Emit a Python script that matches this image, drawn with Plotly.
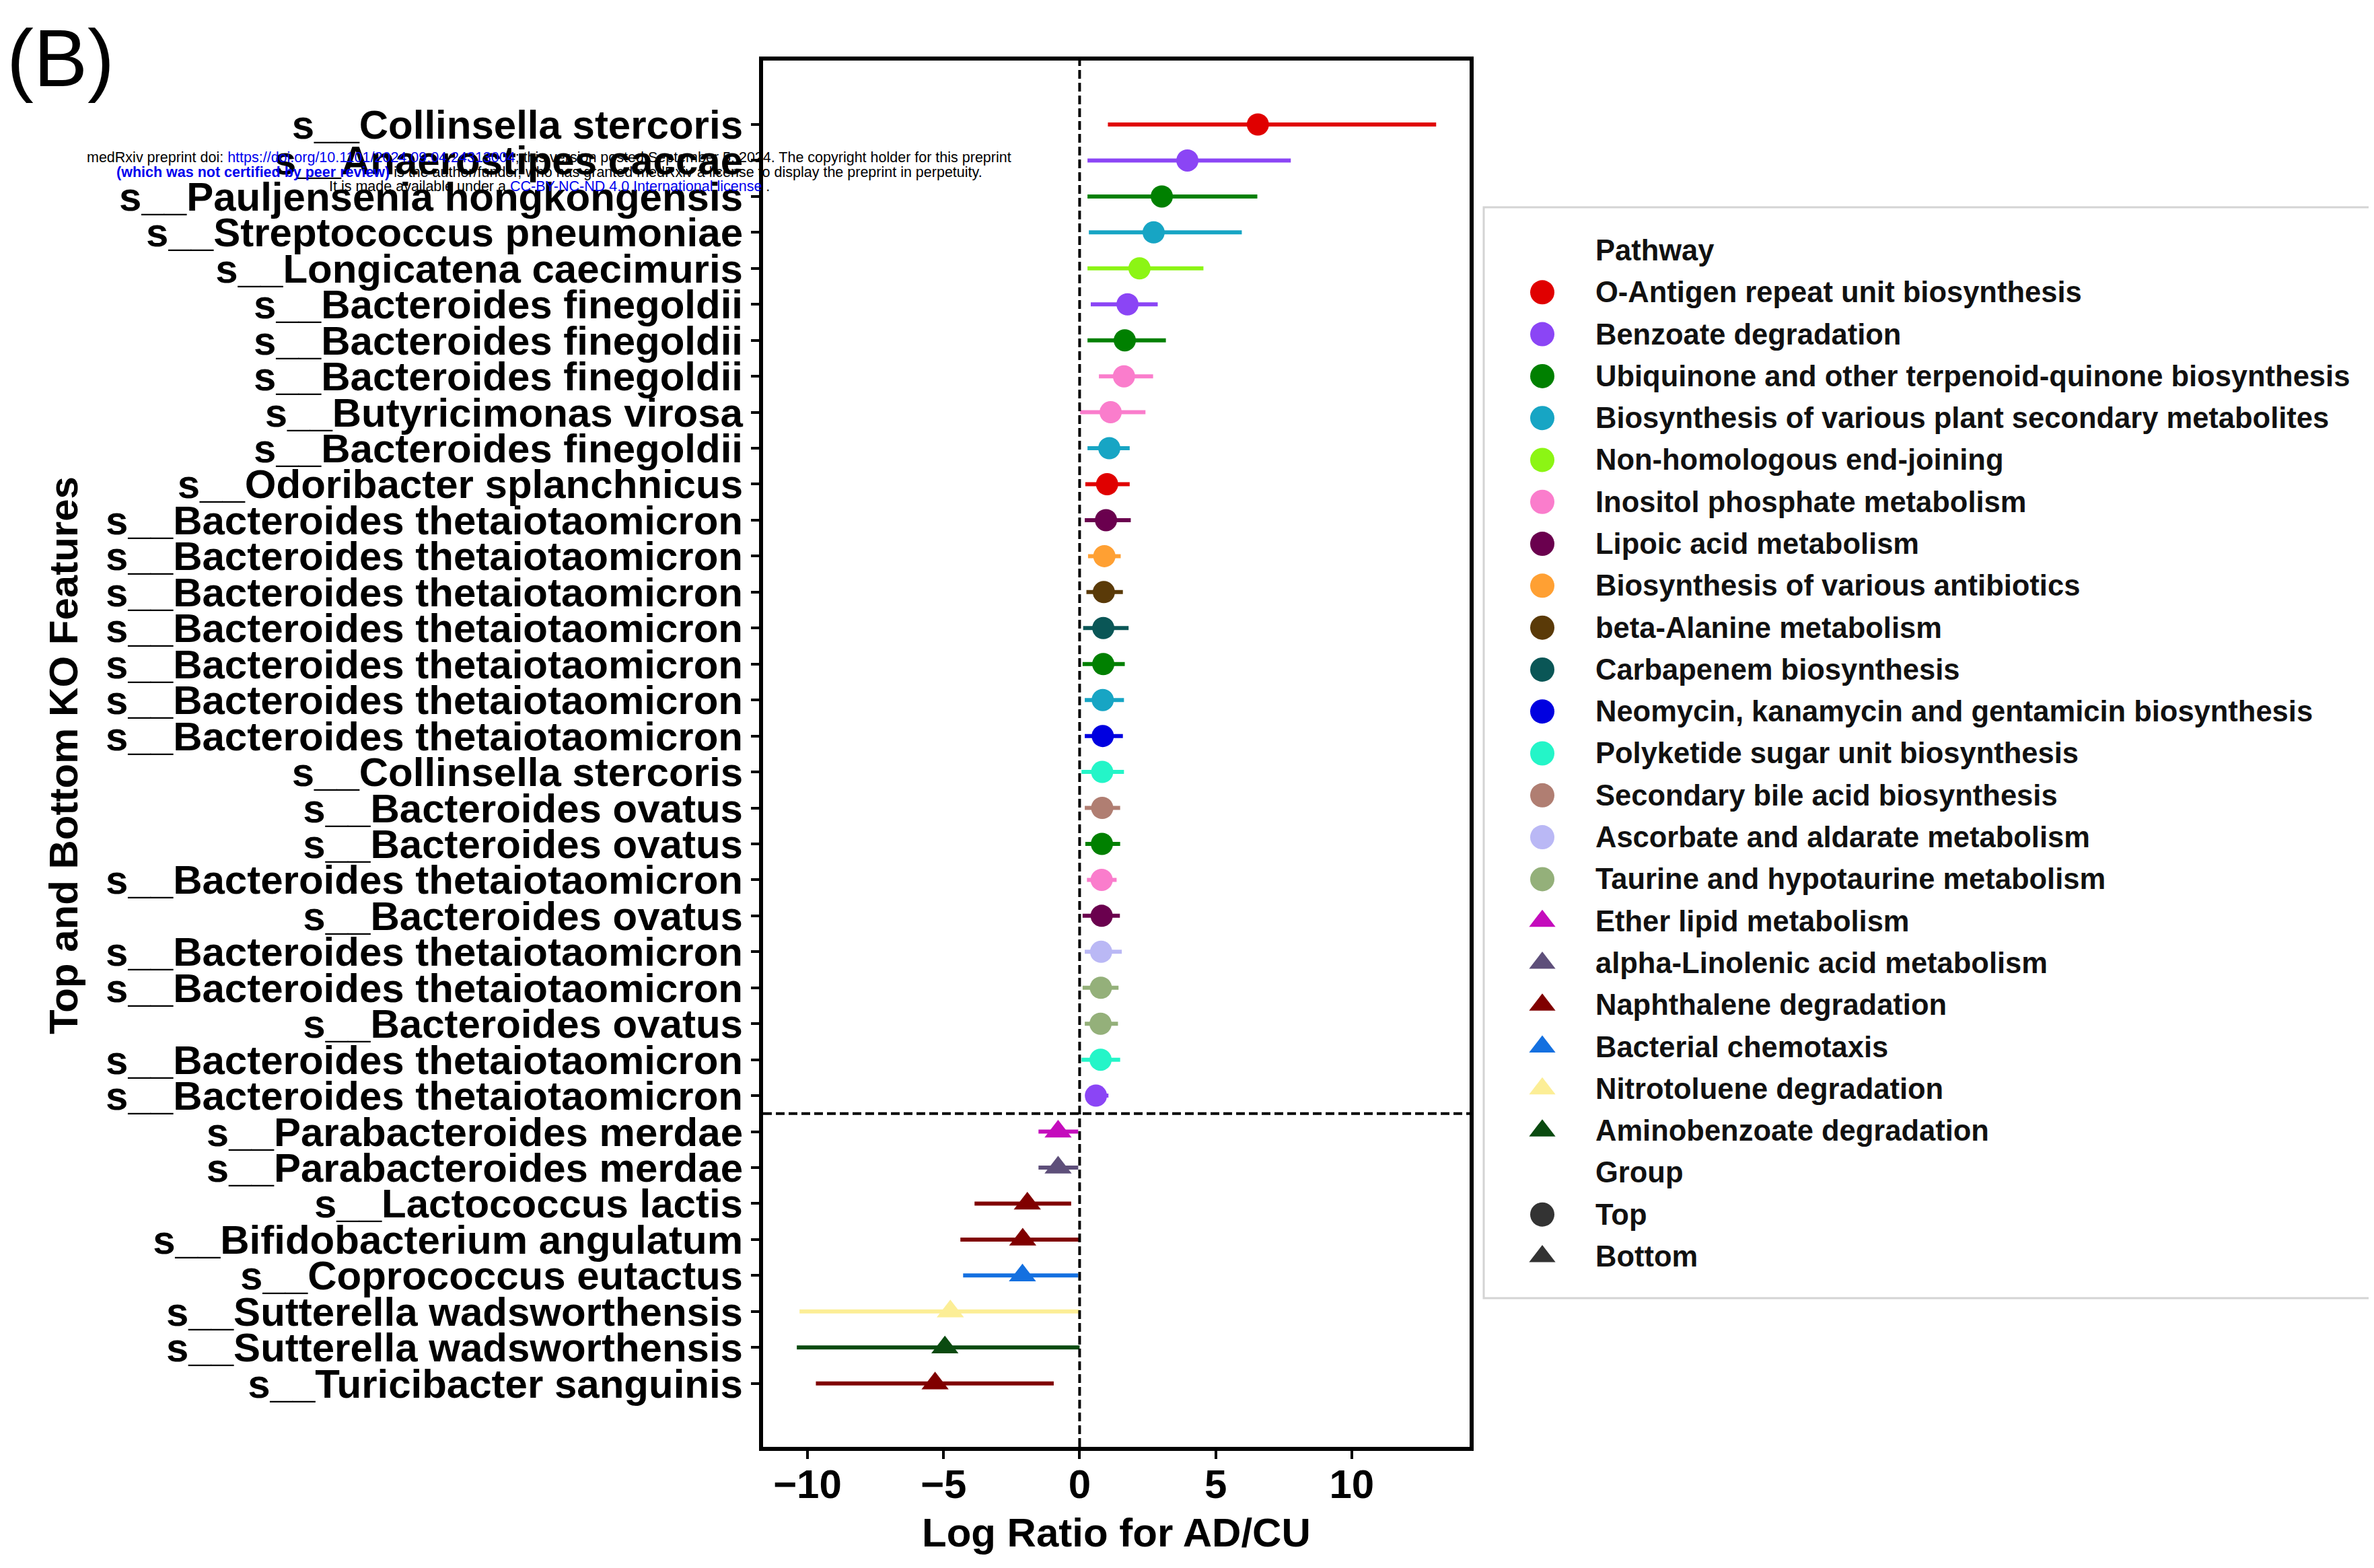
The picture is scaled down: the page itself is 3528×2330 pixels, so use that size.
import plotly.graph_objects as go

# ---------------- data ----------------
features = [
    "s__Collinsella stercoris", "s__Anaerostipes caccae", "s__Pauljensenia hongkongensis",
    "s__Streptococcus pneumoniae", "s__Longicatena caecimuris", "s__Bacteroides finegoldii",
    "s__Bacteroides finegoldii", "s__Bacteroides finegoldii", "s__Butyricimonas virosa",
    "s__Bacteroides finegoldii", "s__Odoribacter splanchnicus", "s__Bacteroides thetaiotaomicron",
    "s__Bacteroides thetaiotaomicron", "s__Bacteroides thetaiotaomicron", "s__Bacteroides thetaiotaomicron",
    "s__Bacteroides thetaiotaomicron", "s__Bacteroides thetaiotaomicron", "s__Bacteroides thetaiotaomicron",
    "s__Collinsella stercoris", "s__Bacteroides ovatus", "s__Bacteroides ovatus",
    "s__Bacteroides thetaiotaomicron", "s__Bacteroides ovatus", "s__Bacteroides thetaiotaomicron",
    "s__Bacteroides thetaiotaomicron", "s__Bacteroides ovatus", "s__Bacteroides thetaiotaomicron",
    "s__Bacteroides thetaiotaomicron", "s__Parabacteroides merdae", "s__Parabacteroides merdae",
    "s__Lactococcus lactis", "s__Bifidobacterium angulatum", "s__Coprococcus eutactus",
    "s__Sutterella wadsworthensis", "s__Sutterella wadsworthensis", "s__Turicibacter sanguinis",
]
row_pathway = [
    "O-Antigen repeat unit biosynthesis", "Benzoate degradation",
    "Ubiquinone and other terpenoid-quinone biosynthesis",
    "Biosynthesis of various plant secondary metabolites", "Non-homologous end-joining",
    "Benzoate degradation", "Ubiquinone and other terpenoid-quinone biosynthesis",
    "Inositol phosphate metabolism", "Inositol phosphate metabolism",
    "Biosynthesis of various plant secondary metabolites", "O-Antigen repeat unit biosynthesis",
    "Lipoic acid metabolism", "Biosynthesis of various antibiotics", "beta-Alanine metabolism",
    "Carbapenem biosynthesis", "Ubiquinone and other terpenoid-quinone biosynthesis",
    "Biosynthesis of various plant secondary metabolites",
    "Neomycin, kanamycin and gentamicin biosynthesis", "Polyketide sugar unit biosynthesis",
    "Secondary bile acid biosynthesis", "Ubiquinone and other terpenoid-quinone biosynthesis",
    "Inositol phosphate metabolism", "Lipoic acid metabolism", "Ascorbate and aldarate metabolism",
    "Taurine and hypotaurine metabolism", "Taurine and hypotaurine metabolism",
    "Polyketide sugar unit biosynthesis", "Benzoate degradation",
    "Ether lipid metabolism", "alpha-Linolenic acid metabolism", "Naphthalene degradation",
    "Naphthalene degradation", "Bacterial chemotaxis", "Nitrotoluene degradation",
    "Aminobenzoate degradation", "Naphthalene degradation",
]
row_group = ["Top"] * 28 + ["Bottom"] * 8
log_ratio = [6.55, 3.96, 3.02, 2.72, 2.20, 1.76, 1.66, 1.63, 1.14, 1.09, 1.01, 0.97,
             0.91, 0.89, 0.87, 0.87, 0.85, 0.85, 0.83, 0.83, 0.82, 0.81, 0.81, 0.79,
             0.78, 0.77, 0.77, 0.60, -0.79, -0.79, -1.92, -2.09, -2.10, -4.75, -4.95, -5.31]
ci_low = [1.04, 0.29, 0.29, 0.34, 0.29, 0.41, 0.29, 0.71, 0.02, 0.29, 0.21, 0.19,
          0.31, 0.25, 0.13, 0.11, 0.19, 0.19, 0.07, 0.19, 0.21, 0.27, 0.11, 0.19,
          0.11, 0.19, 0.07, 0.22, -1.51, -1.51, -3.86, -4.38, -4.28, -10.29, -10.39, -9.69]
ci_high = [13.10, 7.76, 6.53, 5.96, 4.55, 2.87, 3.17, 2.70, 2.42, 1.84, 1.84, 1.88,
           1.51, 1.59, 1.80, 1.66, 1.63, 1.59, 1.63, 1.49, 1.49, 1.36, 1.48, 1.55,
           1.43, 1.41, 1.49, 1.06, -0.05, -0.05, -0.31, -0.01, -0.05, 0.00, 0.00, -0.95]

pathway_names = [
    "O-Antigen repeat unit biosynthesis", "Benzoate degradation",
    "Ubiquinone and other terpenoid-quinone biosynthesis",
    "Biosynthesis of various plant secondary metabolites", "Non-homologous end-joining",
    "Inositol phosphate metabolism", "Lipoic acid metabolism",
    "Biosynthesis of various antibiotics", "beta-Alanine metabolism", "Carbapenem biosynthesis",
    "Neomycin, kanamycin and gentamicin biosynthesis", "Polyketide sugar unit biosynthesis",
    "Secondary bile acid biosynthesis", "Ascorbate and aldarate metabolism",
    "Taurine and hypotaurine metabolism", "Ether lipid metabolism",
    "alpha-Linolenic acid metabolism", "Naphthalene degradation", "Bacterial chemotaxis",
    "Nitrotoluene degradation", "Aminobenzoate degradation",
]
pathway_colors = [
    "#e00000", "#8b45f5", "#008000", "#17a5c4", "#8cf514", "#fa7dcc", "#6a004e",
    "#ffa033", "#5a3a08", "#0a5656", "#0000e0", "#24f5c8", "#b07e72", "#bab8f5",
    "#94b07a", "#c40cbc", "#5e4f7a", "#800000", "#1470e0", "#fcee96", "#0a4a10",
]
group_names = ["Top", "Bottom"]
group_symbols = ["circle", "triangle-up"]
group_color = "#333333"
x_tick_vals = [-10, -5, 0, 5, 10]
x_title = "Log Ratio for AD/CU"
y_title = "Top and Bottom KO Features"
legend_titles = ["Pathway", "Group"]

# ---------------- layout geometry (reference page pixels) ----------------
OFF = 8                                   # page body margin of the browser
W, H = 3528 - OFF, 2330 - OFF             # figure size
PL, PR, PT, PB = 1134, 2184, 90, 2150     # plot frame in page pixels
LL, LT, LB = 2205, 308, 1929              # legend box in page pixels
FONT = "Liberation Sans, Arial, sans-serif"


def fx(p):
    return (p - OFF) / W


def fy(p):
    return 1 - (p - OFF) / H


sym_of = dict(zip(group_names, group_symbols))
size_of = {"circle": 33, "triangle-up": 35}
n_rows = len(features)
y_idx = list(range(n_rows))

fig = go.Figure()

for name, color in zip(pathway_names, pathway_colors):
    rows = [i for i in y_idx if row_pathway[i] == name]
    xs = [log_ratio[i] for i in rows]
    syms = [sym_of[row_group[i]] for i in rows]
    fig.add_trace(go.Scatter(
        x=xs, y=rows, mode="markers", name=name, showlegend=False,
        marker=dict(color=color, symbol=syms, size=[size_of[s] for s in syms],
                    opacity=1, line=dict(width=0)),
        error_x=dict(type="data", symmetric=False,
                     array=[ci_high[i] - log_ratio[i] for i in rows],
                     arrayminus=[log_ratio[i] - ci_low[i] for i in rows],
                     color=color, thickness=6, width=0),
        xaxis="x", yaxis="y",
    ))

# reference lines
n_top = row_group.count("Top")
fig.add_shape(type="line", xref="x", yref="y domain", x0=0, x1=0, y0=0, y1=1,
              line=dict(color="black", width=4, dash="13px,6px"))
fig.add_shape(type="line", xref="x domain", yref="y", x0=0, x1=1, y0=n_top - 0.5, y1=n_top - 0.5,
              line=dict(color="black", width=4, dash="13px,6px"))

# ---------------- custom legend on hidden axes ----------------
entries = [(legend_titles[0], None, None)]
for name, color in zip(pathway_names, pathway_colors):
    grp = row_group[row_pathway.index(name)]
    entries.append((name, color, sym_of[grp]))
entries.append((legend_titles[1], None, None))
for g, s in zip(group_names, group_symbols):
    entries.append((g, group_color, s))

leg_idx = [i for i, e in enumerate(entries) if e[1] is not None]
fig.add_trace(go.Scatter(
    x=[0] * len(leg_idx), y=leg_idx, mode="markers", showlegend=False, hoverinfo="skip",
    marker=dict(color=[entries[i][1] for i in leg_idx], symbol=[entries[i][2] for i in leg_idx],
                size=[36 if entries[i][2] == "circle" else 34 for i in leg_idx],
                opacity=1, line=dict(width=0)),
    xaxis="x2", yaxis="y2",
))
annotations = []
for i, (txt, _, _) in enumerate(entries):
    annotations.append(dict(x=77, y=i, xref="x2", yref="y2", text=txt, showarrow=False,
                            xanchor="left", yanchor="middle",
                            font=dict(family=FONT, size=43.5, color="#111111", weight="bold")))

# panel label
annotations.append(dict(x=0, y=fy(86), xref="paper", yref="paper", text="(B)",
                        showarrow=False, xanchor="left", yanchor="middle",
                        font=dict(family=FONT, size=120, color="black")))

# preprint watermark
wm_lines = [
    "medRxiv preprint doi: <span style='color:#0000ee'>https://doi.org/10.1101/2024.09.04.24313004</span>; "
    "this version posted September 5, 2024. The copyright holder for this preprint",
    "<b><span style='color:#0000ee'>(which was not certified by peer review)</span></b> is the author/funder, "
    "who has granted medRxiv a license to display the preprint in perpetuity.",
    "It is made available under a <span style='color:#0000ee'>CC-BY-NC-ND 4.0 International license</span> .",
]
for txt, py in zip(wm_lines, [234, 256, 277]):
    annotations.append(dict(x=fx(816), y=fy(py), xref="paper", yref="paper", text=txt,
                            showarrow=False, xanchor="center", yanchor="middle",
                            font=dict(family=FONT, size=21.5, color="black")))

# axis titles
annotations.append(dict(x=fx(94), y=fy(1123), xref="paper", yref="paper", text=y_title,
                        showarrow=False, textangle=-90, xanchor="center", yanchor="middle",
                        font=dict(family=FONT, size=60, color="black", weight="bold")))
annotations.append(dict(x=fx(1659), y=fy(2277), xref="paper", yref="paper", text=x_title,
                        showarrow=False, xanchor="center", yanchor="middle",
                        font=dict(family=FONT, size=60, color="black", weight="bold")))

# legend frame
fig.add_shape(type="rect", xref="x2 domain", yref="y2 domain", x0=0, x1=1.05, y0=0, y1=1,
              line=dict(color="#d4d4d4", width=3), layer="below")

row_px = (2055.7 - 185) / (n_rows - 1)
y_top = -(185 - PT) / row_px
y_bot = (n_rows - 1) + (PB - 2055.7) / row_px
leg_px = (1867 - 372) / (len(entries) - 1)

fig.update_layout(
    width=W, height=H, template="none",
    paper_bgcolor="white", plot_bgcolor="white",
    margin=dict(l=0, r=0, t=0, b=0, pad=0),
    font=dict(family=FONT, color="black"),
    showlegend=False,
    annotations=annotations,
    xaxis=dict(domain=[fx(PL), fx(PR)], range=[-11.63, 14.33], tickvals=x_tick_vals,
               ticks="outside", ticklen=12, tickwidth=4, tickcolor="black",
               ticklabelstandoff=-14,
               showline=True, linecolor="black", linewidth=6, mirror=True,
               showgrid=False, zeroline=False, automargin=False,
               tickfont=dict(family=FONT, size=60, color="black", weight="bold"),
               anchor="y"),
    yaxis=dict(domain=[fy(PB), fy(PT)], range=[y_bot, y_top],
               tickvals=y_idx, ticktext=features,
               ticks="outside", ticklen=12, tickwidth=4, tickcolor="black",
               showline=True, linecolor="black", linewidth=6, mirror=True,
               showgrid=False, zeroline=False, automargin=False,
               tickfont=dict(family=FONT, size=60, color="black", weight="bold"),
               anchor="x"),
    xaxis2=dict(domain=[fx(LL), 1], range=[-87, 3528 - LL - 87], visible=False, anchor="y2",
                fixedrange=True),
    yaxis2=dict(domain=[fy(LB), fy(LT)],
                range=[(LB - 372) / leg_px, -(372 - LT) / leg_px],
                visible=False, anchor="x2", fixedrange=True),
)

fig.write_html("out.html")
